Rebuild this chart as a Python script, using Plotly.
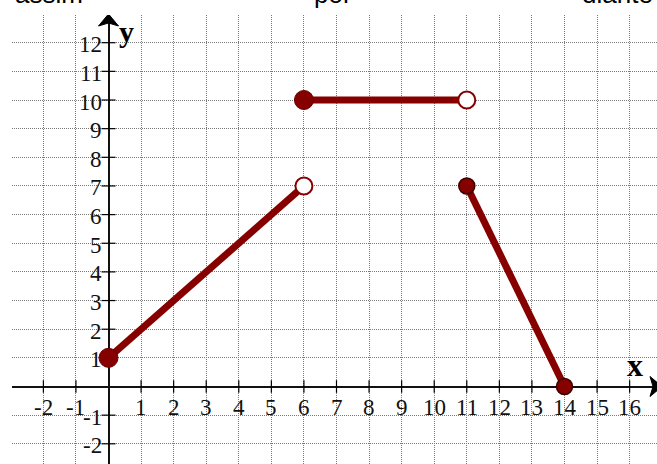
import plotly.graph_objects as go

# Piecewise function: three segments
seg1_x = [0, 6]
seg1_y = [1, 7]
seg2_x = [6, 11]
seg2_y = [10, 10]
seg3_x = [11, 14]
seg3_y = [7, 0]

# Endpoints: included (filled) and excluded (open)
closed_big_x = [0, 6]
closed_big_y = [1, 10]
closed_small_x = [11, 14]
closed_small_y = [7, 0]
open_x = [6, 11]
open_y = [7, 10]

# Axis numbering
x_tick_vals = [-2, -1, 1, 2, 3, 4, 5, 6, 7, 8, 9, 10, 11, 12, 13, 14, 15, 16]
y_tick_vals = [-2, -1, 1, 2, 3, 4, 5, 6, 7, 8, 9, 10, 11, 12]

# Words of the line of text above the graph
header_words = ["assim", "por", "diante"]
header_left_px = [13, 312, 580]

W, H = 657, 464
ML, MT = 12, 15
X_RANGE = [-2.963, 16.84]
Y_RANGE = [-2.705, 12.967]

CURVE = "#860000"
SERIF = "Liberation Serif, Times New Roman, serif"

fig = go.Figure()

# Small tick marks crossing the axes
fig.add_trace(go.Scatter(
    x=x_tick_vals, y=[0] * len(x_tick_vals), mode="markers",
    marker=dict(symbol="line-ns", size=9, line=dict(color="black", width=1.2)),
    hoverinfo="skip", showlegend=False))
fig.add_trace(go.Scatter(
    x=[0] * len(y_tick_vals), y=y_tick_vals, mode="markers",
    marker=dict(symbol="line-ew", size=10, line=dict(color="black", width=1.2)),
    hoverinfo="skip", showlegend=False))

# Segments
for sx, sy in [(seg1_x, seg1_y), (seg2_x, seg2_y), (seg3_x, seg3_y)]:
    fig.add_trace(go.Scatter(x=sx, y=sy, mode="lines",
                             line=dict(color=CURVE, width=7),
                             showlegend=False))

# Endpoints
fig.add_trace(go.Scatter(x=closed_big_x, y=closed_big_y, mode="markers",
                         marker=dict(size=19, color=CURVE,
                                     line=dict(color="#6a0000", width=1)),
                         showlegend=False))
fig.add_trace(go.Scatter(x=closed_small_x, y=closed_small_y, mode="markers",
                         marker=dict(size=16, color=CURVE,
                                     line=dict(color="#3a0000", width=1.5)),
                         showlegend=False, cliponaxis=False))
fig.add_trace(go.Scatter(x=open_x, y=open_y, mode="markers",
                         marker=dict(size=17, color="white",
                                     line=dict(color=CURVE, width=2)),
                         showlegend=False))

annotations = []
for v in x_tick_vals:
    annotations.append(dict(x=v, y=0, xref="x", yref="y", text=str(v),
                            showarrow=False, xanchor="center", yanchor="middle",
                            yshift=-21, font=dict(family=SERIF, size=23, color="#111")))
for v in y_tick_vals:
    annotations.append(dict(x=0, y=v, xref="x", yref="y", text=str(v),
                            showarrow=False, xanchor="right", yanchor="middle",
                            xshift=-5, yshift=-2, font=dict(family=SERIF, size=23, color="#111")))

# Axis names
annotations.append(dict(x=0.537, y=12, xref="x", yref="y", text="<b>y</b>",
                        showarrow=False, xanchor="center", yanchor="middle",
                        yshift=11, font=dict(family=SERIF, size=30, color="black")))
annotations.append(dict(x=16.15, y=0, xref="x", yref="y", text="<b>x</b>",
                        showarrow=False, xanchor="center", yanchor="middle",
                        yshift=22, font=dict(family=SERIF, size=32, color="black")))

# Line of text above the graph
for word, left in zip(header_words, header_left_px):
    annotations.append(dict(x=(left - ML) / (W - ML), y=1, xref="paper", yref="paper",
                            text=word, showarrow=False, xanchor="left", yanchor="bottom",
                            yshift=4, font=dict(family="Liberation Sans, Arial, sans-serif",
                                                size=26, color="black")))

# Arrowheads at the ends of the axes
shapes = [
    dict(type="path", xref="x", yref="y", xsizemode="pixel", ysizemode="pixel",
         xanchor=0, yanchor=Y_RANGE[1],
         path="M -10,-11 L 0,1 L 10,-11 L 0,-8 Z",
         fillcolor="black", line=dict(color="black", width=1)),
    dict(type="path", xref="x", yref="y", xsizemode="pixel", ysizemode="pixel",
         xanchor=X_RANGE[1], yanchor=0,
         path="M -7,10 L 5,0 L -7,-10 L -4,0 Z",
         fillcolor="black", line=dict(color="black", width=1)),
]

axis_common = dict(
    dtick=1, tick0=0, showgrid=True, griddash="1px,1px", gridcolor="#7a7a7a",
    gridwidth=1, showticklabels=False, ticks="", zeroline=True,
    zerolinecolor="#111", zerolinewidth=2, showline=False, fixedrange=True,
)

fig.update_layout(
    width=W, height=H,
    margin=dict(l=ML, r=0, t=MT, b=0, pad=0),
    paper_bgcolor="white", plot_bgcolor="white",
    xaxis=dict(range=X_RANGE, **axis_common),
    yaxis=dict(range=Y_RANGE, **axis_common),
    annotations=annotations,
    shapes=shapes,
    showlegend=False,
)

fig.write_html("out.html", config={"displayModeBar": False})
